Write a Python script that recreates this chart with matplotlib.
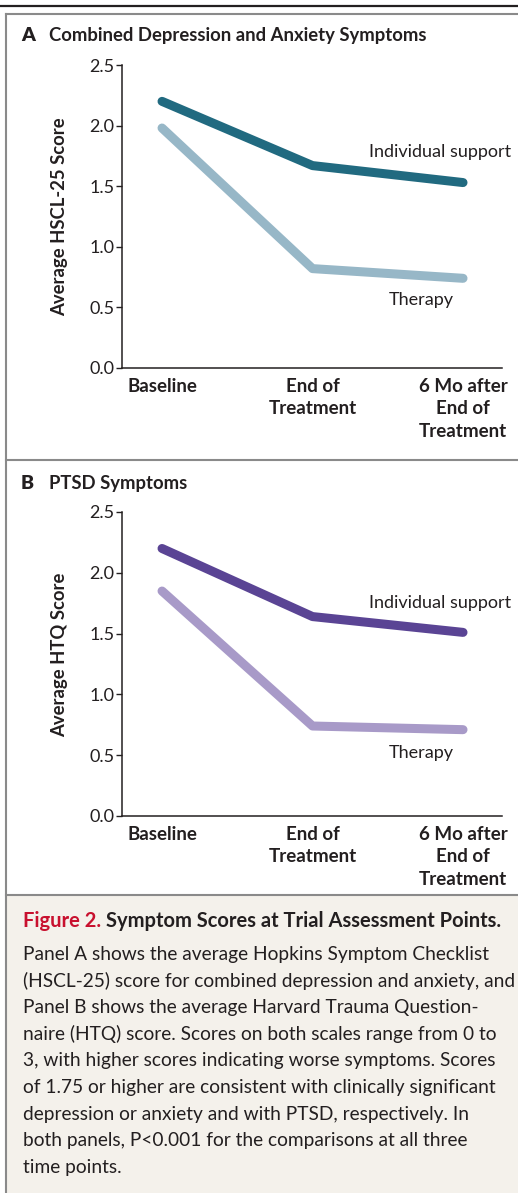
import matplotlib
matplotlib.use("Agg")
import matplotlib.pyplot as plt
from matplotlib.patches import Rectangle
from matplotlib.lines import Line2D

# -----------------------------
# Data
# -----------------------------
TIMEPOINTS = ["Baseline", "End of\nTreatment", "6 Mo after\nEnd of\nTreatment"]
HSCL_SUPPORT = [2.20, 1.67, 1.53]
HSCL_THERAPY = [1.98, 0.82, 0.74]
HTQ_SUPPORT = [2.20, 1.64, 1.51]
HTQ_THERAPY = [1.85, 0.74, 0.71]
Y_TICKS = [0.0, 0.5, 1.0, 1.5, 2.0, 2.5]

CAPTION_LINES = [
    "Panel A shows the average Hopkins Symptom Checklist",
    "(HSCL-25) score for combined depression and anxiety, and",
    "Panel B shows the average Harvard Trauma Question-",
    "naire (HTQ) score. Scores on both scales range from 0 to",
    "3, with higher scores indicating worse symptoms. Scores",
    "of 1.75 or higher are consistent with clinically significant",
    "depression or anxiety and with PTSD, respectively. In",
    "both panels, P<0.001 for the comparisons at all three",
    "time points.",
]

# -----------------------------
# Style
# -----------------------------
plt.rcParams["font.family"] = ["Lato", "DejaVu Sans"]
W, H = 518, 1193
TEXT = "#231f20"
BORDER = "#8a8a8a"
CAPTION_BG = "#f4f1eb"
RED = "#c8102e"
FS = 13  # axis text size

fig = plt.figure(figsize=(W / 100, H / 100), dpi=100)


def fx(px):
    return px / W


def fy(py):
    return 1 - py / H


# -----------------------------
# Frame, rules, caption background
# -----------------------------
fig.add_artist(Rectangle((fx(6), fy(H)), fx(W), fy(895) - fy(H), transform=fig.transFigure,
                         facecolor=CAPTION_BG, edgecolor="none", zorder=0))
fig.add_artist(Line2D([0, 1], [fy(6), fy(6)], transform=fig.transFigure, color=TEXT, lw=1.6))
fig.add_artist(Line2D([fx(6), 1], [fy(14), fy(14)], transform=fig.transFigure, color=BORDER, lw=1.5))
fig.add_artist(Line2D([fx(6), fx(6)], [fy(14), 0], transform=fig.transFigure, color=BORDER, lw=1.5))
fig.add_artist(Line2D([fx(6), 1], [fy(460), fy(460)], transform=fig.transFigure, color=BORDER, lw=1.5))
fig.add_artist(Line2D([fx(6), 1], [fy(895), fy(895)], transform=fig.transFigure, color=BORDER, lw=1.5))


# -----------------------------
# Panels
# -----------------------------
def draw_panel(top, bottom, letter, title, ylabel, support, therapy, dark, light,
               sup_xy, ther_xy, title_y, label_y):
    fig.text(fx(21), fy(title_y), letter, fontsize=14, fontweight="heavy", color=TEXT, va="baseline")
    fig.text(fx(49), fy(title_y), title, fontsize=13.3, fontweight="bold", color=TEXT, va="baseline")

    ax = fig.add_axes([fx(122), fy(bottom), fx(502) - fx(122), fy(top) - fy(bottom)])
    x = range(len(TIMEPOINTS))
    ax.plot(x, support, color=dark, lw=6.5, solid_capstyle="round", solid_joinstyle="round")
    ax.plot(x, therapy, color=light, lw=6.5, solid_capstyle="round", solid_joinstyle="round")
    ax.text(sup_xy[0], sup_xy[1], "Individual support", fontsize=FS, color=TEXT, va="center")
    ax.text(ther_xy[0], ther_xy[1], "Therapy", fontsize=FS, color=TEXT, va="center")

    ax.set_xlim(-0.266, 2.259)
    ax.set_ylim(0, 2.5)
    ax.set_yticks(Y_TICKS)
    ax.set_yticklabels([f"{v:.1f}" for v in Y_TICKS], fontsize=FS, color=TEXT)
    ax.set_xticks(list(x))
    ax.set_xticklabels(TIMEPOINTS, fontsize=13.5, fontweight="bold", color=TEXT,
                       va="top", linespacing=1.4)
    ax.tick_params(axis="x", length=0, pad=7)
    ax.tick_params(axis="y", length=4.5, width=1, color=TEXT, pad=1)
    for side in ["top", "right"]:
        ax.spines[side].set_visible(False)
    for side in ["left", "bottom"]:
        ax.spines[side].set_color(TEXT)
        ax.spines[side].set_linewidth(1.1)
    ax.set_ylabel(ylabel, fontsize=13.3, fontweight="bold", color=TEXT)
    ax.yaxis.set_label_coords(-0.143, label_y)
    ax.patch.set_alpha(0)
    return ax


draw_panel(65, 368, "A", "Combined Depression and Anxiety Symptoms", "Average HSCL-25 Score",
           HSCL_SUPPORT, HSCL_THERAPY, "#216a80", "#97b7c7", (1.375, 1.78), (1.508, 0.56), 41, 0.5)
draw_panel(512, 816, "B", "PTSD Symptoms", "Average HTQ Score",
           HTQ_SUPPORT, HTQ_THERAPY, "#5a4494", "#a89ac8", (1.375, 1.75), (1.508, 0.52), 489, 0.53)

# -----------------------------
# Caption
# -----------------------------
fig.canvas.draw()
renderer = fig.canvas.get_renderer()
t1 = fig.text(fx(23), fy(927), "Figure 2.", fontsize=14.5, fontweight="bold", color=RED, va="baseline")
bb = t1.get_window_extent(renderer)
fig.text(fx(bb.x1 + 5), fy(927), "Symptom Scores at Trial Assessment Points.", fontsize=14.5,
         fontweight="bold", color=TEXT, va="baseline")
for i, line in enumerate(CAPTION_LINES):
    fig.text(fx(23), fy(960 + i * 26.6), line, fontsize=13.75, color=TEXT, va="baseline")

fig.savefig("out.png", dpi=100)
